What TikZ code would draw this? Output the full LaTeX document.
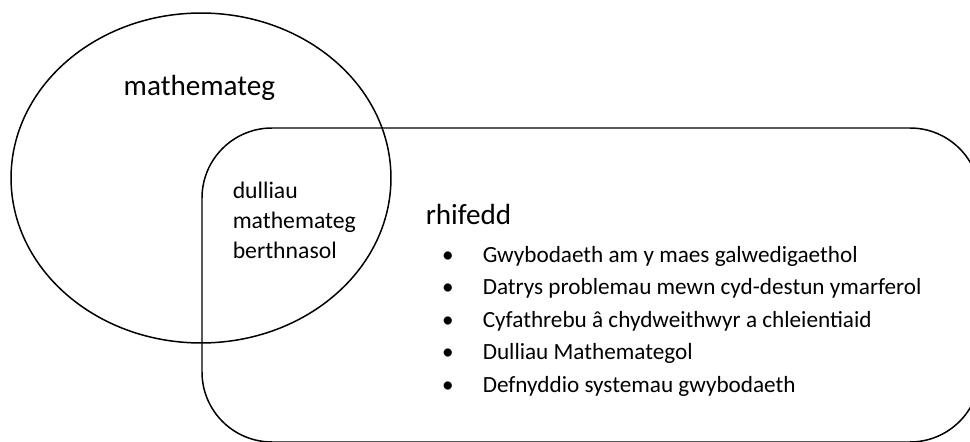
\documentclass[tikz,border=0pt]{standalone}
\usepackage{fontspec}
\setmainfont{Carlito}
\usetikzlibrary{positioning, shapes.geometric}

\begin{document}
\begin{tikzpicture}[
    x=0.02cm, y=-0.02cm,
    line width=0.85pt,
    setmaths/.style={ellipse, draw, minimum width=7.6cm, minimum height=6.6cm, inner sep=0pt},
    setnum/.style={draw, rounded corners=1.4cm},
    big/.style={font=\fontsize{16.6}{20}\selectfont, inner sep=0pt},
    small/.style={font=\fontsize{13.5}{17.2}\selectfont, inner sep=0pt, align=left},
    item/.style={font=\fontsize{13.2}{17}\selectfont, inner sep=0pt},
]
\useasboundingbox (0,0) rectangle (970,442);
\clip (0,0) rectangle (970,442);

% the two sets
\node[setmaths] (maths) at (201,178) {};
\draw[setnum] (202,128) rectangle (980,442);

% labels
\node[big, anchor=base west] (mathslabel) at (123,96) {mathemateg};
\node[small, anchor=north west] (overlap) at (232,181) {dulliau\\mathemateg\\berthnasol};
\node[big, anchor=base west] (numlabel) at (425,225) {rhifedd};

% list of skills
\foreach \txt [count=\i] in {Gwybodaeth am y maes galwedigaethol,
    Datrys problemau mewn cyd-destun ymarferol,
    Cyfathrebu â chydweithwyr a chleientiaid,
    Dulliau Mathemategol,
    Defnyddio systemau gwybodaeth}{
  \node[item, anchor=base] (dot\i) at (448,{262+32.5*(\i-1)}) {\textbullet};
  \node[item, anchor=base west] (line\i) at (482,{262+32.5*(\i-1)}) {\txt};
}
\end{tikzpicture}
\end{document}
